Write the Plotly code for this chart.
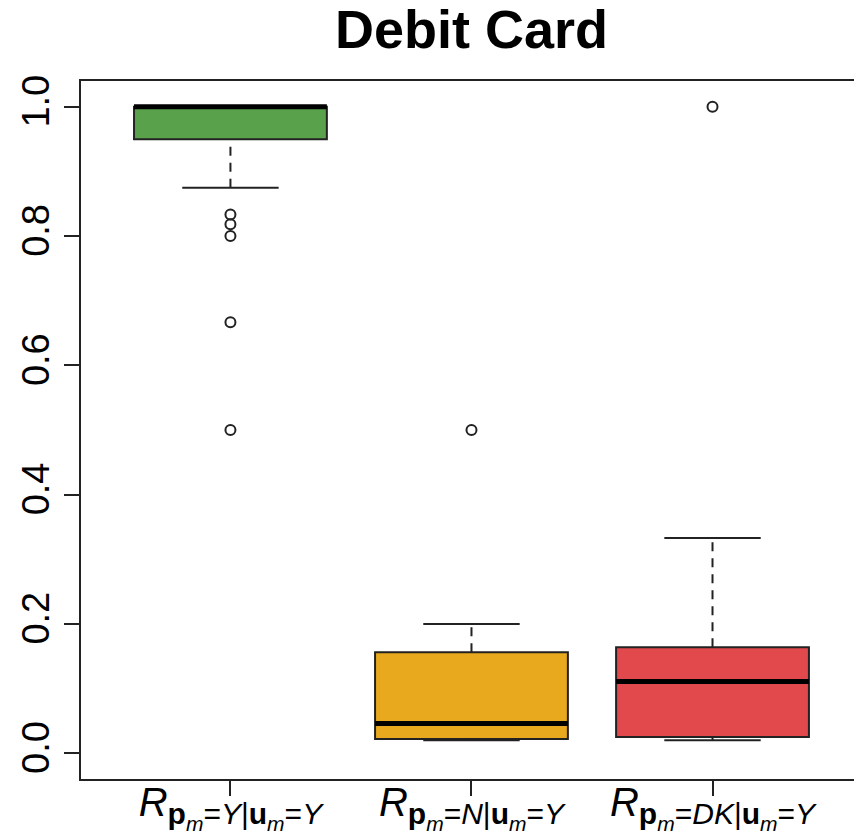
import plotly.graph_objects as go

# Summary statistics of the three response ratios
positions = [1, 2, 3]
sub_style = "font-size:30px"
tick_labels = [
    f"<i>R</i><sub><span style='{sub_style}'><b>p</b><sub><i>m</i></sub>=<i>Y</i>|<b>u</b><sub><i>m</i></sub>=<i>Y</i></span></sub>",
    f"<i>R</i><sub><span style='{sub_style}'><b>p</b><sub><i>m</i></sub>=<i>N</i>|<b>u</b><sub><i>m</i></sub>=<i>Y</i></span></sub>",
    f"<i>R</i><sub><span style='{sub_style}'><b>p</b><sub><i>m</i></sub>=<i>DK</i>|<b>u</b><sub><i>m</i></sub>=<i>Y</i></span></sub>",
]
q1 = [0.95, 0.022, 0.025]
median = [1.0, 0.046, 0.111]
q3 = [1.0, 0.156, 0.164]
whisker_low = [0.875, 0.02, 0.02]
whisker_high = [1.0, 0.2, 0.333]
outliers = [
    [0.8333, 0.8182, 0.8, 0.6667, 0.5],
    [0.5],
    [1.0],
]
colors = ["#59a14b", "#e8a91f", "#e2494c"]

box_width = 0.8
staple_width = 0.4
edge = "#222222"

fig = go.Figure()

for i, pos in enumerate(positions):
    # dashed whiskers
    for lo, hi in ((whisker_low[i], q1[i]), (q3[i], whisker_high[i])):
        fig.add_trace(go.Scatter(
            x=[pos, pos], y=[lo, hi], mode="lines",
            line=dict(color=edge, width=2, dash="9px,7px"),
            hoverinfo="skip", showlegend=False))
    # staples
    for v in (whisker_low[i], whisker_high[i]):
        fig.add_trace(go.Scatter(
            x=[pos - staple_width / 2, pos + staple_width / 2], y=[v, v],
            mode="lines", line=dict(color=edge, width=2),
            hoverinfo="skip", showlegend=False))
    # box body
    fig.add_trace(go.Box(
        x=[pos], q1=[q1[i]], median=[median[i]], q3=[q3[i]],
        lowerfence=[q1[i]], upperfence=[q3[i]],
        width=box_width, fillcolor=colors[i],
        line=dict(color=edge, width=2),
        boxpoints=False, hoverinfo="skip", showlegend=False))
    # thick median
    fig.add_trace(go.Scatter(
        x=[pos - box_width / 2, pos + box_width / 2], y=[median[i], median[i]],
        mode="lines", line=dict(color="black", width=5),
        hoverinfo="skip", showlegend=False))
    # outliers
    fig.add_trace(go.Scatter(
        x=[pos] * len(outliers[i]), y=outliers[i], mode="markers",
        marker=dict(symbol="circle-open", size=10, color=edge, line=dict(width=2)),
        hoverinfo="skip", showlegend=False))

x_range = [0.38, 3.587]

fig.update_layout(
    width=854, height=837,
    margin=dict(l=81, r=0, t=81, b=58),
    paper_bgcolor="white", plot_bgcolor="white",
    boxmode="overlay",
    font=dict(family="Liberation Sans, Arial, sans-serif", color="black"),
    title=dict(
        text="<b>Debit Card</b>",
        font=dict(size=54, family="Liberation Sans, Arial, sans-serif", color="black"),
        xref="paper", x=(2 - x_range[0]) / (x_range[1] - x_range[0]),
        xanchor="center", yref="container", y=1 - 29 / 837, yanchor="middle"),
    xaxis=dict(
        range=x_range, tickvals=positions, ticktext=tick_labels,
        showgrid=False, zeroline=False, automargin=False,
        showline=True, linecolor=edge, linewidth=2, mirror=True,
        ticks="outside", ticklen=15, tickwidth=2, tickcolor=edge,
        ticklabelstandoff=-28,
        tickfont=dict(size=40, family="Liberation Sans, Arial, sans-serif"),
    ),
    yaxis=dict(
        range=[-0.04, 1.04], tickvals=[0, 0.2, 0.4, 0.6, 0.8, 1.0],
        ticktext=["0.0", "0.2", "0.4", "0.6", "0.8", "1.0"],
        tickangle=-90, automargin=False,
        showgrid=False, zeroline=False,
        showline=True, linecolor=edge, linewidth=2, mirror=False,
        ticks="outside", ticklen=15, tickwidth=2, tickcolor=edge,
        tickfont=dict(size=38, family="Liberation Sans, Arial, sans-serif"),
    ),
)

fig.write_html("out.html")
